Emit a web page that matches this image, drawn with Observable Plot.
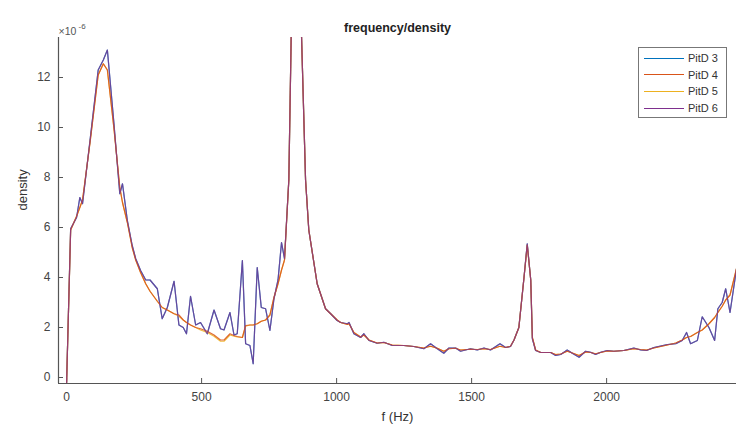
<!DOCTYPE html>
<html>
<head>
<meta charset="utf-8">
<script src="https://cdn.jsdelivr.net/npm/d3@7"></script>
<script src="https://cdn.jsdelivr.net/npm/@observablehq/plot@0.6"></script>
<style>
  body { margin: 0; background: #fff; }
  #wrap { position: relative; width: 736px; height: 430px; font-family: "Liberation Sans", Arial, sans-serif; }
  #legend { position: absolute; left: 638px; top: 47px; width: 87px; height: 69px; border: 1px solid #777; background: #fff; font-size: 11px; color: #333; }
  #legend .row { position: absolute; left: 0; height: 14px; display: flex; align-items: center; }
  #legend .sw { width: 40px; height: 0; border-top: 1.2px solid; margin-left: 5px; margin-right: 4px; }
</style>
</head>
<body>
<div id="wrap"></div>
<script>
const title = "frequency/density";
const xLabel = "f (Hz)";
const yLabel = "density";
const seriesNames = ["PitD 3", "PitD 4", "PitD 5", "PitD 6"];
const seriesColors = ["#0072BD", "#D95319", "#EDB120", "#7E2F8E"];
const drawOrder = [0, 2, 1, 3];
const xTicks = [0, 500, 1000, 1500, 2000];
const yTicks = [0, 2, 4, 6, 8, 10, 12];

const freq = [0, 15, 37, 49, 59, 88, 117, 136, 151, 175, 197, 207, 225, 243, 256, 274, 293, 309, 336, 354,
  373, 398, 416, 432, 444, 459, 478, 496, 521, 546, 570, 583, 605, 620, 632, 651, 663, 679, 691, 706,
  721, 737, 753, 768, 783, 796, 807, 823, 843, 864, 885, 897, 928, 959, 978, 1002, 1015, 1040, 1046, 1064,
  1089, 1101, 1120, 1150, 1175, 1206, 1249, 1286, 1323, 1348, 1373, 1397, 1416, 1441, 1459, 1496, 1521, 1546, 1570, 1605,
  1626, 1644, 1657, 1675, 1694, 1706, 1719, 1725, 1737, 1756, 1793, 1811, 1830, 1854, 1873, 1898, 1922, 1941, 1959, 1978,
  2002, 2027, 2064, 2101, 2126, 2148, 2175, 2225, 2256, 2280, 2296, 2311, 2336, 2354, 2379, 2400, 2412, 2428, 2441, 2457, 2481];

const pitD6 = [-0.2, 5.95, 6.4, 7.2, 6.95, 9.6, 12.3, 12.7, 13.1, 10.2, 7.35, 7.75, 6.28, 5.28, 4.75, 4.28, 3.9, 3.9, 3.55, 2.35,
  2.8, 3.85, 2.1, 2.0, 1.75, 3.25, 2.1, 2.2, 1.75, 2.7, 1.95, 1.9, 2.6, 1.7, 1.75, 4.68, 1.35, 1.28, 0.55, 4.4,
  2.8, 2.75, 1.88, 3.15, 3.9, 5.4, 4.75, 7.9, 21, 16, 7.9, 5.9, 3.75, 2.75, 2.55, 2.28, 2.2, 2.15, 2.2, 1.75,
  1.6, 1.75, 1.48, 1.37, 1.41, 1.28, 1.28, 1.24, 1.15, 1.35, 1.15, 0.97, 1.18, 1.18, 1.05, 1.15, 1.1, 1.18, 1.1, 1.35,
  1.2, 1.24, 1.5, 2.0, 4.0, 5.35, 3.9, 1.55, 1.08, 1.0, 1.0, 0.88, 0.92, 1.1, 0.97, 0.81, 1.05, 1.01, 0.92, 1.01,
  1.08, 1.05, 1.08, 1.18, 1.1, 1.08, 1.2, 1.32, 1.35, 1.48, 1.8, 1.35, 1.48, 2.43, 2.0, 1.48, 2.75, 3.0, 3.55, 2.6, 4.35];

const pitD3 = [-0.2, 5.95, 6.4, 7.2, 6.95, 9.6, 12.3, 12.7, 13.1, 10.2, 7.35, 7.75, 6.28, 5.28, 4.75, 4.28, 3.9, 3.9, 3.55, 2.35,
  2.8, 3.85, 2.1, 2.0, 1.75, 3.25, 2.1, 2.2, 1.75, 2.7, 1.95, 1.9, 2.6, 1.7, 1.75, 4.68, 1.35, 1.28, 0.55, 4.4,
  2.8, 2.75, 1.88, 3.15, 3.9, 5.4, 4.75, 7.9, 21, 16, 7.9, 5.9, 3.75, 2.75, 2.55, 2.28, 2.2, 2.15, 2.2, 1.75,
  1.6, 1.75, 1.48, 1.37, 1.41, 1.28, 1.28, 1.24, 1.15, 1.35, 1.15, 0.97, 1.18, 1.18, 1.05, 1.15, 1.1, 1.18, 1.1, 1.35,
  1.2, 1.24, 1.5, 2.0, 4.0, 5.35, 3.9, 1.55, 1.08, 1.0, 1.0, 0.88, 0.92, 1.1, 0.97, 0.81, 1.05, 1.01, 0.92, 1.01,
  1.08, 1.05, 1.08, 1.18, 1.1, 1.08, 1.2, 1.32, 1.35, 1.48, 1.8, 1.35, 1.48, 2.43, 2.0, 1.48, 2.75, 3.0, 3.55, 2.6, 4.35];

const pitD4 = [-0.2, 5.9, 6.45, 6.8, 7.1, 9.5, 12.1, 12.55, 12.3, 10.0, 7.6, 7.0, 6.2, 5.2, 4.7, 4.2, 3.75, 3.45, 3.05, 2.8,
  2.7, 2.55, 2.5, 2.3, 2.2, 2.1, 2.0, 1.95, 1.85, 1.7, 1.5, 1.5, 1.75, 1.68, 1.64, 1.6, 2.08, 2.1, 2.1, 2.15,
  2.25, 2.3, 2.5, 3.2, 3.75, 4.3, 4.7, 7.9, 21, 16, 7.9, 5.9, 3.75, 2.75, 2.55, 2.3, 2.2, 2.12, 2.15, 1.8,
  1.62, 1.7, 1.5, 1.38, 1.4, 1.3, 1.28, 1.24, 1.18, 1.25, 1.17, 1.05, 1.15, 1.17, 1.1, 1.13, 1.12, 1.15, 1.12, 1.25,
  1.2, 1.25, 1.5, 2.0, 4.0, 5.3, 3.9, 1.6, 1.1, 1.0, 1.0, 0.92, 0.94, 1.05, 0.98, 0.88, 1.02, 1.0, 0.95, 1.0,
  1.06, 1.05, 1.08, 1.15, 1.12, 1.1, 1.18, 1.3, 1.38, 1.5, 1.6, 1.64, 1.8, 1.9, 2.15, 2.4, 2.6, 2.85, 3.1, 3.3, 4.35];

const pitD5 = [-0.2, 5.9, 6.45, 6.8, 7.1, 9.5, 12.1, 12.55, 12.3, 10.0, 7.6, 7.0, 6.2, 5.2, 4.7, 4.2, 3.75, 3.45, 3.05, 2.8,
  2.7, 2.55, 2.45, 2.3, 2.2, 2.1, 2.0, 1.9, 1.8, 1.65, 1.45, 1.45, 1.7, 1.65, 1.62, 1.6, 2.05, 2.1, 2.1, 2.15,
  2.25, 2.3, 2.5, 3.2, 3.75, 4.3, 4.7, 7.9, 21, 16, 7.9, 5.9, 3.75, 2.75, 2.55, 2.3, 2.2, 2.12, 2.15, 1.8,
  1.62, 1.7, 1.5, 1.38, 1.4, 1.3, 1.28, 1.24, 1.18, 1.25, 1.17, 1.05, 1.15, 1.17, 1.1, 1.13, 1.12, 1.15, 1.12, 1.25,
  1.2, 1.25, 1.5, 2.0, 4.0, 5.3, 3.9, 1.6, 1.1, 1.0, 1.0, 0.92, 0.94, 1.05, 0.98, 0.88, 1.02, 1.0, 0.95, 1.0,
  1.06, 1.05, 1.08, 1.15, 1.12, 1.1, 1.18, 1.3, 1.38, 1.5, 1.6, 1.64, 1.8, 1.9, 2.15, 2.4, 2.6, 2.85, 3.1, 3.3, 4.35];

const seriesValues = [pitD3, pitD4, pitD5, pitD6];
const rows = [];
seriesValues.forEach((vals, s) => {
  freq.forEach((f, i) => rows.push({series: seriesNames[s], f, v: vals[i]}));
});

const xDomain = [-30, 2481];
const yDomain = [-0.24, 13.6];
const W = 736, H = 430, mL = 58, mR = 0, mT = 37, mB = 47;
const frameW = W - mL - mR, frameH = H - mT - mB;

const axisColor = "#555";

const chart = Plot.plot({
  width: W, height: H,
  marginLeft: mL, marginRight: mR, marginTop: mT, marginBottom: mB,
  style: {fontFamily: "'Liberation Sans', Arial, sans-serif", fontSize: "12px", color: "#444", background: "#fff"},
  x: {domain: xDomain},
  y: {domain: yDomain},
  marks: [
    Plot.ruleY([yDomain[0]], {stroke: axisColor, strokeWidth: 1.2}),
    Plot.ruleX([xDomain[0]], {stroke: axisColor, strokeWidth: 1.2}),
    Plot.tickX(xTicks, {x: d => d, stroke: axisColor, insetTop: frameH - 5}),
    Plot.tickY(yTicks, {y: d => d, stroke: axisColor, insetRight: frameW - 5}),
    Plot.axisX({ticks: xTicks, tickSize: 0, tickPadding: 9, fontSize: 12, tickFormat: d => String(d), label: null}),
    Plot.axisY({ticks: yTicks, tickSize: 0, tickPadding: 8, fontSize: 12, tickFormat: d => String(d), label: null}),
    ...drawOrder.map(s => Plot.line(rows.filter(r => r.series === seriesNames[s]), {
      x: "f", y: "v", stroke: seriesColors[s], strokeWidth: 1.2,
      strokeOpacity: s === 3 ? 0.72 : 0.85, clip: true
    })),
    Plot.text([title], {frameAnchor: "top", dy: -14, fontWeight: "bold", fontSize: 12.5, fill: "#222"}),
    Plot.text([xLabel], {frameAnchor: "bottom", dy: 37, fontSize: 13, fill: "#333"}),
    Plot.text([yLabel], {frameAnchor: "left", dx: -36, rotate: -90, fontSize: 13, fill: "#333"}),
    Plot.text(["\u00d710"], {frameAnchor: "top-left", dx: 0, dy: -10, textAnchor: "start", fontSize: 10.5, fill: "#555"}),
    Plot.text(["-6"], {frameAnchor: "top-left", dx: 20, dy: -14, textAnchor: "start", fontSize: 8, fill: "#555"})
  ]
});

const wrap = document.getElementById("wrap");
wrap.appendChild(chart);

const legend = document.createElement("div");
legend.id = "legend";
seriesNames.forEach((name, i) => {
  const row = document.createElement("div");
  row.className = "row";
  row.style.top = (3 + i * 16.7) + "px";
  const sw = document.createElement("div");
  sw.className = "sw";
  sw.style.borderTopColor = seriesColors[i];
  const lab = document.createElement("span");
  lab.textContent = name;
  row.appendChild(sw);
  row.appendChild(lab);
  legend.appendChild(row);
});
wrap.appendChild(legend);
</script>
</body>
</html>
